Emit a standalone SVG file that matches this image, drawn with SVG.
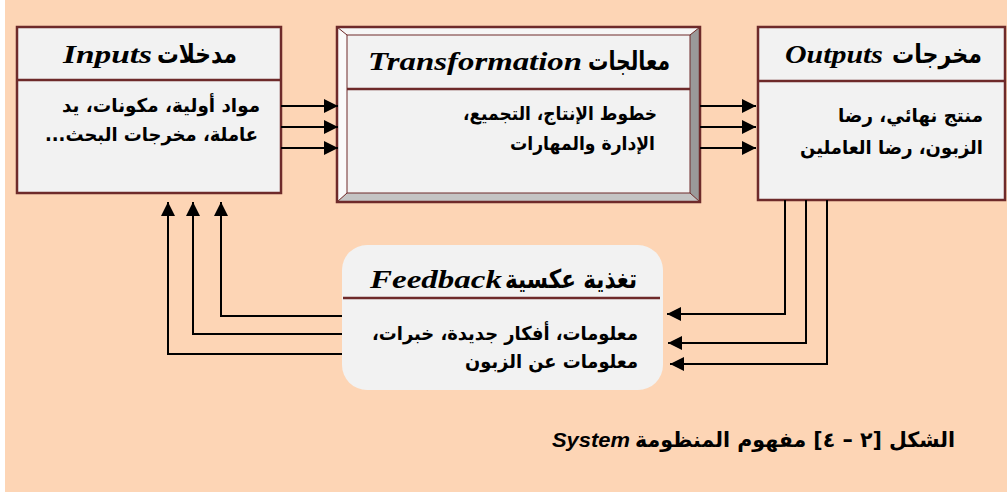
<svg xmlns="http://www.w3.org/2000/svg" width="1007" height="492" viewBox="0 0 1007 492">
<style>
.box{fill:#F2F2F2;stroke:#6E2A2A;stroke-width:2.5}
.div{stroke:#6E2A2A;stroke-width:2.5}
.ar{font-family:"DejaVu Sans","Noto Sans",sans-serif;font-weight:bold;fill:#000;direction:rtl;unicode-bidi:embed;text-anchor:middle}
.ti{font-size:26px}
.bd{font-size:19px}
.la{font-family:"Liberation Serif","Times New Roman",serif;font-style:italic;font-weight:bold;font-size:26px;fill:#000;text-anchor:middle}
.con{fill:none;stroke:#000;stroke-width:2}
</style>
<defs>
<marker id="ah" markerUnits="userSpaceOnUse" markerWidth="14" markerHeight="14" refX="14" refY="7" orient="auto" viewBox="0 0 14 14">
<path d="M0,0 L14,7 L0,14 z" fill="#000"/>
</marker>
</defs>
<rect x="0" y="0" width="1007" height="492" fill="#FFFFFF"/>
<rect x="5" y="0" width="1002" height="492" fill="#FDD5B5"/>

<g id="inputs">
<rect class="box" x="17" y="27" width="264" height="166"/>
<line class="div" x1="17" y1="80" x2="281" y2="80"/>
<text class="la" x="107.5" y="63" textLength="89" lengthAdjust="spacingAndGlyphs">Inputs</text>
<text class="ar ti" x="197" y="63" textLength="80" lengthAdjust="spacingAndGlyphs">مدخلات</text>
<text class="ar bd" x="161" y="112" textLength="198" lengthAdjust="spacingAndGlyphs">مواد أولية، مكونات، يد</text>
<text class="ar bd" x="151.5" y="141" textLength="213" lengthAdjust="spacingAndGlyphs">عاملة، مخرجات البحث...</text>
</g>

<g id="transformation">
<polygon points="337,27 700,27 690,35 347,35" fill="#F6F6F6"/>
<polygon points="337,27 347,35 347,193 337,202" fill="#FAFAFA"/>
<polygon points="700,27 700,202 690,193 690,35" fill="#9A9A9A"/>
<polygon points="337,202 700,202 690,193 347,193" fill="#C4C4C4"/>
<rect x="347" y="35" width="343" height="158" fill="#F2F2F2" stroke="#6E2A2A" stroke-width="1"/>
<g stroke="#6E2A2A" stroke-width="1">
<line x1="337" y1="27" x2="347" y2="35"/>
<line x1="700" y1="27" x2="690" y2="35"/>
<line x1="337" y1="202" x2="347" y2="193"/>
<line x1="700" y1="202" x2="690" y2="193"/>
</g>
<rect x="337" y="27" width="363" height="175" fill="none" stroke="#6E2A2A" stroke-width="2.5"/>
<line class="div" x1="347" y1="89" x2="690" y2="89"/>
<text class="la" x="475" y="70" textLength="214" lengthAdjust="spacingAndGlyphs">Transformation</text>
<text class="ar ti" x="629" y="70" textLength="82" lengthAdjust="spacingAndGlyphs">معالجات</text>
<text class="ar bd" x="560" y="120" textLength="194" lengthAdjust="spacingAndGlyphs">خطوط الإنتاج، التجميع،</text>
<text class="ar bd" x="582.5" y="150" textLength="145" lengthAdjust="spacingAndGlyphs">الإدارة والمهارات</text>
</g>

<g id="outputs">
<rect class="box" x="758" y="27" width="247" height="173"/>
<line class="div" x1="758" y1="81" x2="1005" y2="81"/>
<text class="la" x="834" y="63" textLength="98" lengthAdjust="spacingAndGlyphs">Outputs</text>
<text class="ar ti" x="937" y="63" textLength="90" lengthAdjust="spacingAndGlyphs">مخرجات</text>
<text class="ar bd" x="910.5" y="122" textLength="145" lengthAdjust="spacingAndGlyphs">منتج نهائي، رضا</text>
<text class="ar bd" x="891.5" y="154" textLength="183" lengthAdjust="spacingAndGlyphs">الزبون، رضا العاملين</text>
</g>

<g id="feedback">
<rect x="342" y="245" width="321" height="145" rx="25" ry="25" fill="#F2F2F2"/>
<line class="div" x1="343" y1="298" x2="660" y2="298"/>
<text class="la" x="436" y="288" textLength="132" lengthAdjust="spacingAndGlyphs">Feedback</text>
<text class="ar ti" x="571" y="288" textLength="132" lengthAdjust="spacingAndGlyphs">تغذية عكسية</text>
<text class="ar bd" x="505" y="340" textLength="266" lengthAdjust="spacingAndGlyphs">معلومات، أفكار جديدة، خبرات،</text>
<text class="ar bd" x="551.5" y="368" textLength="173" lengthAdjust="spacingAndGlyphs">معلومات عن الزبون</text>
</g>

<g id="connectors">
<path class="con" d="M281,106 H338" marker-end="url(#ah)"/>
<path class="con" d="M281,127 H338" marker-end="url(#ah)"/>
<path class="con" d="M281,148 H338" marker-end="url(#ah)"/>
<path class="con" d="M700,106 H756" marker-end="url(#ah)"/>
<path class="con" d="M700,127 H756" marker-end="url(#ah)"/>
<path class="con" d="M700,148 H756" marker-end="url(#ah)"/>
<path class="con" d="M785,200 V314 H667" marker-end="url(#ah)"/>
<path class="con" d="M806,200 V343 H668" marker-end="url(#ah)"/>
<path class="con" d="M827,200 V364 H670" marker-end="url(#ah)"/>
<path class="con" d="M342,316 H221 V202" marker-end="url(#ah)"/>
<path class="con" d="M342,334 H193 V202" marker-end="url(#ah)"/>
<path class="con" d="M342,354 H168 V202" marker-end="url(#ah)"/>
</g>

<g id="caption">
<text x="591" y="447" font-family="'Liberation Sans',Arial,sans-serif" font-weight="bold" font-style="italic" font-size="21" text-anchor="middle" textLength="78" lengthAdjust="spacingAndGlyphs">System</text>
<text class="ar" x="795" y="447" font-size="21" textLength="320" lengthAdjust="spacingAndGlyphs">الشكل [٢ – ٤] مفهوم المنظومة</text>
</g>
</svg>
